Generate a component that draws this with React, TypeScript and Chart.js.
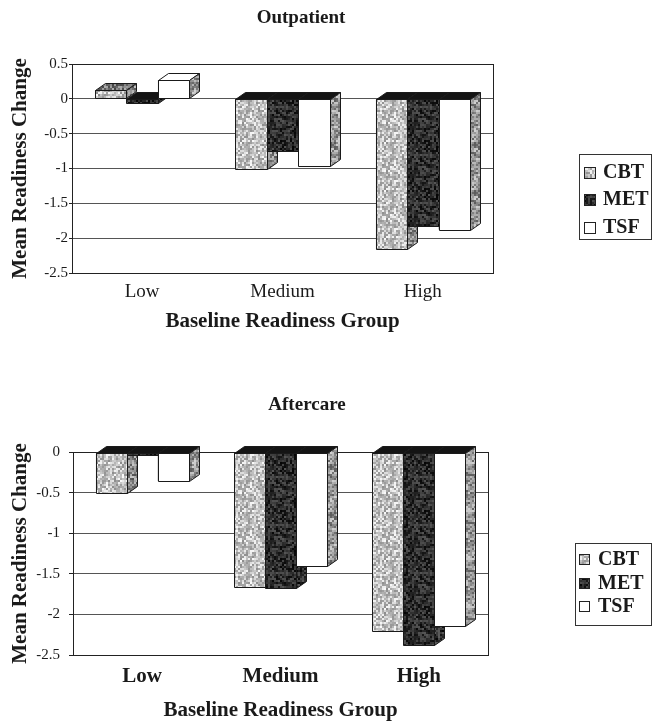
import React, { useEffect, useRef } from 'react';
import { Chart, registerables } from 'chart.js';

Chart.register(...registerables);

// ---------------- data ----------------
const categories = ['Low', 'Medium', 'High'];
const seriesNames = ['CBT', 'MET', 'TSF'];

const outpatientCBT = [0.12, -1.0, -2.16];
const outpatientMET = [-0.06, -0.75, -1.83];
const outpatientTSF = [0.27, -0.97, -1.88];

const aftercareCBT = [-0.5, -1.66, -2.21];
const aftercareMET = [-0.04, -1.67, -2.38];
const aftercareTSF = [-0.36, -1.41, -2.14];

const outpatientYRange = [-2.5, 0.5];
const aftercareYRange = [-2.5, 0];
const yStep = 0.5;

const titles = ['Outpatient', 'Aftercare'];
const xAxisTitle = 'Baseline Readiness Group';
const yAxisTitle = 'Mean Readiness Change';

const SERIF = '"Liberation Serif", "Times New Roman", serif';

// ---------------- textures ----------------
function makeTexture(ctx: CanvasRenderingContext2D, mean: number, spread: number, seed: number) {
  const size = 48;
  const c = document.createElement('canvas');
  c.width = size;
  c.height = size;
  const g = c.getContext('2d') as CanvasRenderingContext2D;
  const img = g.createImageData(size, size);
  let s = seed >>> 0;
  const cell = 2;
  const n = size / cell;
  const vals: number[] = [];
  for (let i = 0; i < n * n; i++) {
    s = (Math.imul(s, 1103515245) + 12345) >>> 0;
    const r = (s & 0x7fffffff) / 0x7fffffff;
    vals.push(Math.max(0, Math.min(255, Math.round(mean + (r - 0.5) * spread))));
  }
  for (let y = 0; y < size; y++) {
    for (let x = 0; x < size; x++) {
      const v = vals[Math.floor(y / cell) * n + Math.floor(x / cell)];
      const k = (y * size + x) * 4;
      img.data[k] = v;
      img.data[k + 1] = v;
      img.data[k + 2] = v;
      img.data[k + 3] = 255;
    }
  }
  g.putImageData(img, 0, 0);
  return ctx.createPattern(c, 'repeat') as CanvasPattern;
}

type Faces = { front: any; top: any; side: any };

function makeFaces(ctx: CanvasRenderingContext2D): Faces[] {
  return [
    { front: makeTexture(ctx, 195, 110, 11), top: makeTexture(ctx, 120, 110, 12), side: makeTexture(ctx, 140, 120, 13) },
    { front: makeTexture(ctx, 45, 80, 21), top: makeTexture(ctx, 40, 60, 22), side: makeTexture(ctx, 50, 90, 23) },
    { front: '#ffffff', top: '#ffffff', side: makeTexture(ctx, 150, 120, 33) },
  ];
}

// ---------------- panel config ----------------
type PanelCfg = {
  top: number;
  height: number;
  title: string;
  titlePad: { top: number; bottom: number };
  padRight: number;
  padBottom: number;
  yWidth: number;
  rightWidth: number;
  xHeight: number;
  yRange: number[];
  yTickLen: number;
  yTickPad: number;
  xTickFont: { size: number; weight: string };
  xTickPad: number;
  data: number[][];
  legend: { x: number; y: number; w: number; h: number; rows: number[]; swatchX: number; swatch: number; textX: number };
};

const panels: PanelCfg[] = [
  {
    top: 0,
    height: 340,
    title: titles[0],
    titlePad: { top: 8.5, bottom: 36.5 },
    padRight: 50,
    padBottom: 7.5,
    yWidth: 72,
    rightWidth: 109,
    xHeight: 59.5,
    yRange: outpatientYRange,
    yTickLen: 3,
    yTickPad: 1,
    xTickFont: { size: 19, weight: 'normal' },
    xTickPad: 9.5,
    data: [outpatientCBT, outpatientMET, outpatientTSF],
    legend: { x: 579, y: 154, w: 72, h: 85, rows: [172, 199, 227], swatchX: 584, swatch: 11, textX: 603 },
  },
  {
    top: 370,
    height: 351,
    title: titles[1],
    titlePad: { top: 25.5, bottom: 37.5 },
    padRight: 38,
    padBottom: 0,
    yWidth: 73,
    rightWidth: 126,
    xHeight: 66,
    yRange: aftercareYRange,
    yTickLen: 4,
    yTickPad: 9,
    xTickFont: { size: 21, weight: 'bold' },
    xTickPad: 11.5,
    data: [aftercareCBT, aftercareMET, aftercareTSF],
    legend: { x: 575, y: 173, w: 76, h: 82, rows: [189, 213, 236], swatchX: 579, swatch: 10, textX: 598 },
  },
];

function poly(ctx: CanvasRenderingContext2D, pts: number[][], fill: any) {
  ctx.beginPath();
  ctx.moveTo(pts[0][0], pts[0][1]);
  for (let i = 1; i < pts.length; i++) ctx.lineTo(pts[i][0], pts[i][1]);
  ctx.closePath();
  ctx.fillStyle = fill;
  ctx.fill();
  ctx.stroke();
}

function makePlugins(faces: Faces[], cfg: PanelCfg) {
  const dx = 10;
  const dy = 7;
  const frame = {
    id: 'frame',
    beforeDatasetsDraw(chart: any) {
      const { ctx, chartArea } = chart;
      ctx.save();
      ctx.strokeStyle = '#222';
      ctx.lineWidth = 1;
      const l = Math.round(chartArea.left) + 0.5;
      const t = Math.round(chartArea.top) + 0.5;
      const r = Math.round(chartArea.right) + 0.5;
      const b = Math.round(chartArea.bottom) + 0.5;
      ctx.strokeRect(l, t, r - l, b - t);
      ctx.restore();
    },
  };
  const bar3d = {
    id: 'bar3d',
    afterDatasetsDraw(chart: any) {
      const { ctx } = chart;
      ctx.save();
      ctx.lineWidth = 1;
      ctx.strokeStyle = '#1a1a1a';
      ctx.lineJoin = 'miter';
      chart.data.datasets.forEach((ds: any, di: number) => {
        const meta = chart.getDatasetMeta(di);
        meta.data.forEach((el: any, i: number) => {
          const p = el.getProps(['x', 'y', 'base', 'width'], true);
          const left = Math.round(p.x - p.width / 2) + 0.5;
          const right = Math.round(p.x + p.width / 2) + 0.5;
          const top = Math.round(Math.min(p.y, p.base)) + 0.5;
          const bottom = Math.round(Math.max(p.y, p.base)) + 0.5;
          const value = ds.data[i];
          const f = faces[di];
          poly(ctx, [[left, top], [right, top], [right, bottom], [left, bottom]], f.front);
          poly(ctx, [[left, top], [right, top], [right + dx, top - dy], [left + dx, top - dy]], value >= 0 ? f.top : '#141414');
          poly(ctx, [[right, top], [right + dx, top - dy], [right + dx, bottom - dy], [right, bottom]], f.side);
        });
      });
      ctx.restore();
    },
    afterDraw(chart: any) {
      const { ctx } = chart;
      const lg = cfg.legend;
      ctx.save();
      ctx.strokeStyle = '#333';
      ctx.lineWidth = 1;
      ctx.fillStyle = '#fff';
      ctx.fillRect(lg.x + 0.5, lg.y + 0.5, lg.w, lg.h);
      ctx.strokeRect(lg.x + 0.5, lg.y + 0.5, lg.w, lg.h);
      ctx.font = `bold 20px ${SERIF}`;
      ctx.textBaseline = 'middle';
      ctx.textAlign = 'left';
      chart.data.datasets.forEach((ds: any, di: number) => {
        const cy = lg.rows[di];
        const s = lg.swatch;
        ctx.fillStyle = faces[di].front;
        ctx.fillRect(lg.swatchX + 0.5, Math.round(cy - s / 2) + 0.5, s, s);
        ctx.strokeStyle = '#222';
        ctx.strokeRect(lg.swatchX + 0.5, Math.round(cy - s / 2) + 0.5, s, s);
        ctx.fillStyle = '#1a1a1a';
        ctx.fillText(ds.label, lg.textX, cy + 1);
      });
      ctx.restore();
    },
  };
  return [frame, bar3d];
}

function Panel({ cfg }: { cfg: PanelCfg }) {
  const ref = useRef<HTMLCanvasElement | null>(null);
  useEffect(() => {
    const canvas = ref.current as HTMLCanvasElement;
    const ctx = canvas.getContext('2d') as CanvasRenderingContext2D;
    const faces = makeFaces(ctx);
    const chart = new Chart(ctx, {
      type: 'bar',
      data: {
        labels: categories,
        datasets: seriesNames.map((name, i) => ({
          label: name,
          data: cfg.data[i],
          backgroundColor: faces[i].front,
          borderColor: '#1a1a1a',
          borderWidth: 1,
          categoryPercentage: 0.67,
          barPercentage: 1.0,
          yAxisID: 'y',
        })),
      },
      options: {
        animation: false,
        responsive: false,
        devicePixelRatio: 1,
        layout: { padding: { left: 0, right: cfg.padRight, top: 0, bottom: cfg.padBottom } },
        plugins: {
          legend: { display: false },
          tooltip: { enabled: false },
          title: {
            display: true,
            text: cfg.title,
            color: '#1a1a1a',
            font: { family: SERIF, size: 19, weight: 'bold', lineHeight: 1 },
            padding: cfg.titlePad,
          },
        },
        scales: {
          x: {
            grid: { display: false, drawTicks: false },
            border: { display: true, color: '#222' },
            ticks: {
              color: '#1a1a1a',
              padding: cfg.xTickPad,
              font: { family: SERIF, size: cfg.xTickFont.size, weight: cfg.xTickFont.weight as any, lineHeight: 1 },
            },
            title: {
              display: true,
              text: xAxisTitle,
              color: '#1a1a1a',
              padding: 0,
              font: { family: SERIF, size: 21, weight: 'bold', lineHeight: 1 },
            },
            afterFit: (s: any) => {
              s.height = cfg.xHeight;
            },
          },
          y: {
            position: 'left',
            min: cfg.yRange[0],
            max: cfg.yRange[1],
            ticks: {
              stepSize: yStep,
              color: '#1a1a1a',
              padding: cfg.yTickPad,
              font: { family: SERIF, size: 15, lineHeight: 1 },
              callback: (v: any) => String(Number(v)),
            },
            grid: { color: '#555', lineWidth: 1, drawTicks: true, tickLength: cfg.yTickLen, tickColor: '#222' },
            border: { display: true, color: '#222' },
            title: {
              display: true,
              text: yAxisTitle,
              color: '#1a1a1a',
              padding: { top: 10, bottom: 0 },
              font: { family: SERIF, size: 21, weight: 'bold', lineHeight: 1 },
            },
            afterFit: (s: any) => {
              s.width = cfg.yWidth;
            },
          },
          legendSpace: {
            type: 'linear',
            position: 'right',
            display: true,
            grid: { display: false, drawTicks: false },
            border: { display: false },
            ticks: { display: false },
            afterFit: (s: any) => {
              s.width = cfg.rightWidth;
            },
          },
        },
      },
      plugins: makePlugins(faces, cfg),
    } as any);
    return () => chart.destroy();
  }, [cfg]);
  return (
    <canvas
      ref={ref}
      width={652}
      height={cfg.height}
      style={{ position: 'absolute', left: 0, top: cfg.top, width: 652, height: cfg.height, display: 'block' }}
    />
  );
}

export default function App() {
  return (
    <div style={{ position: 'absolute', left: 0, top: 0, width: 652, height: 721, overflow: 'hidden', background: '#fff' }}>
      {panels.map((p, i) => (
        <Panel key={i} cfg={p} />
      ))}
    </div>
  );
}
